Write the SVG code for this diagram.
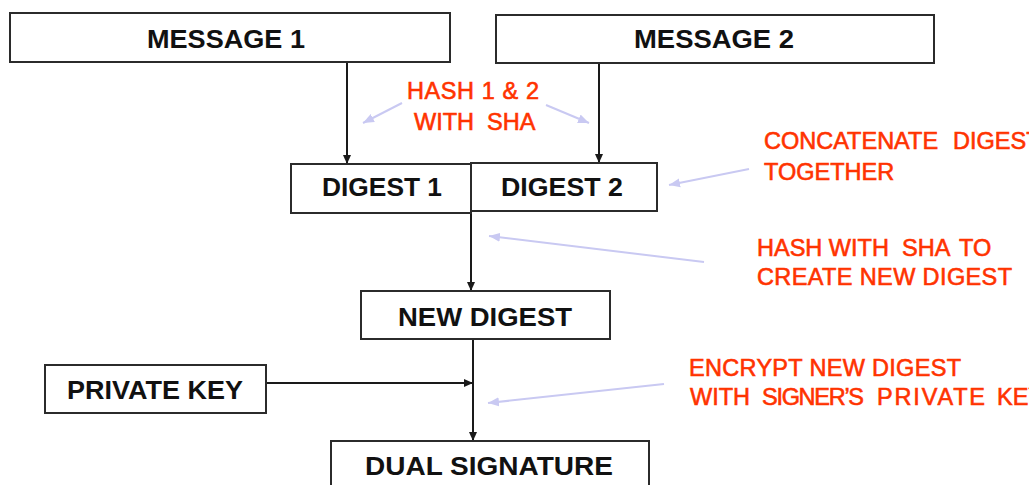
<svg xmlns="http://www.w3.org/2000/svg" width="1029" height="485" viewBox="0 0 1029 485">
  <style>
    .box { fill: #ffffff; stroke: #2b2b2b; stroke-width: 2; }
    .lbl { font-family: "Liberation Sans", Arial, sans-serif; font-weight: bold; font-size: 26px; fill: #111111; }
    .note { font-family: "Liberation Sans", Arial, sans-serif; font-size: 23.5px; fill: #ff3300; stroke: #ff3300; stroke-width: 0.6; }
    .flow { stroke: #1a1a1a; stroke-width: 2; fill: none; }
    .hint { stroke: #c9c9f2; stroke-width: 2; fill: none; }
  </style>
  <defs>
    <marker id="arrowBlack" markerUnits="userSpaceOnUse" markerWidth="10" markerHeight="10" viewBox="0 0 10 10" refX="9" refY="5" orient="auto">
      <path d="M0,1 L9,5 L0,9 Z" fill="#1a1a1a"/>
    </marker>
    <marker id="arrowHint" markerUnits="userSpaceOnUse" markerWidth="12" markerHeight="10" viewBox="0 0 12 10" refX="11" refY="5" orient="auto">
      <path d="M0,0.5 L11,5 L0,9.5 Z" fill="#c9c9f2"/>
    </marker>
  </defs>

  <rect width="1029" height="485" fill="#ffffff"/>

  <!-- flow connectors and annotation pointers -->
  <g id="connectors">
    <line class="flow" x1="347" y1="62" x2="347" y2="164" marker-end="url(#arrowBlack)"/>
    <line class="flow" x1="599" y1="63" x2="599" y2="163" marker-end="url(#arrowBlack)"/>
    <line class="flow" x1="471" y1="212" x2="471" y2="291" marker-end="url(#arrowBlack)"/>
    <line class="flow" x1="473" y1="339" x2="473" y2="441" marker-end="url(#arrowBlack)"/>
    <line class="flow" x1="266" y1="383" x2="473" y2="383" marker-end="url(#arrowBlack)"/>

    <line class="hint" x1="402" y1="103" x2="363" y2="123" marker-end="url(#arrowHint)"/>
    <line class="hint" x1="546" y1="105" x2="589" y2="123" marker-end="url(#arrowHint)"/>
    <line class="hint" x1="749" y1="169" x2="669" y2="185" marker-end="url(#arrowHint)"/>
    <line class="hint" x1="704" y1="262" x2="489" y2="236" marker-end="url(#arrowHint)"/>
    <line class="hint" x1="664" y1="384" x2="488" y2="403" marker-end="url(#arrowHint)"/>
  </g>

  <g id="message1">
    <rect class="box" x="10" y="13" width="440" height="49"/>
    <text class="lbl" x="147" y="48" font-size="27" textLength="158" lengthAdjust="spacingAndGlyphs">MESSAGE 1</text>
  </g>
  <g id="message2">
    <rect class="box" x="496" y="15" width="438" height="48"/>
    <text class="lbl" x="634" y="48" font-size="27" textLength="160" lengthAdjust="spacingAndGlyphs">MESSAGE 2</text>
  </g>
  <g id="digest1">
    <rect class="box" x="291" y="164" width="180" height="49"/>
    <text class="lbl" x="322" y="196" font-size="25" textLength="120" lengthAdjust="spacingAndGlyphs">DIGEST 1</text>
  </g>
  <g id="digest2">
    <rect class="box" x="471" y="163" width="186" height="48"/>
    <text class="lbl" x="501" y="196" font-size="25" textLength="122" lengthAdjust="spacingAndGlyphs">DIGEST 2</text>
  </g>
  <g id="newDigest">
    <rect class="box" x="361" y="291" width="249" height="48"/>
    <text class="lbl" x="398" y="326" textLength="174" lengthAdjust="spacingAndGlyphs">NEW DIGEST</text>
  </g>
  <g id="privateKey">
    <rect class="box" x="45" y="365" width="221" height="48"/>
    <text class="lbl" x="67" y="399" textLength="176" lengthAdjust="spacingAndGlyphs">PRIVATE KEY</text>
  </g>
  <g id="dualSignature">
    <rect class="box" x="331" y="441" width="318" height="60"/>
    <text class="lbl" x="365" y="475" textLength="248" lengthAdjust="spacingAndGlyphs">DUAL SIGNATURE</text>
  </g>

  <!-- step annotations; wide word gaps are set with per-word x positions -->
  <g id="noteHash">
    <text class="note" x="407" y="99" textLength="132">HASH 1 &amp; 2</text>
    <text class="note" y="130"><tspan x="414">WITH</tspan><tspan x="487">SHA</tspan></text>
  </g>
  <g id="noteConcat">
    <text class="note" y="149"><tspan x="764">CONCATENATE</tspan><tspan x="953">DIGESTS</tspan></text>
    <text class="note" x="764" y="180">TOGETHER</text>
  </g>
  <g id="noteNewDigest">
    <text class="note" y="256"><tspan x="757">HASH WITH</tspan><tspan x="902">SHA</tspan><tspan x="959">TO</tspan></text>
    <text class="note" x="757" y="285" textLength="255">CREATE NEW DIGEST</text>
  </g>
  <g id="noteEncrypt">
    <text class="note" x="689" y="376" textLength="272">ENCRYPT NEW DIGEST</text>
    <text class="note" y="405"><tspan x="690">WITH</tspan><tspan x="762" textLength="102">SIGNER’S</tspan><tspan x="877" textLength="108">PRIVATE</tspan><tspan x="997">KEY</tspan></text>
  </g>
</svg>
